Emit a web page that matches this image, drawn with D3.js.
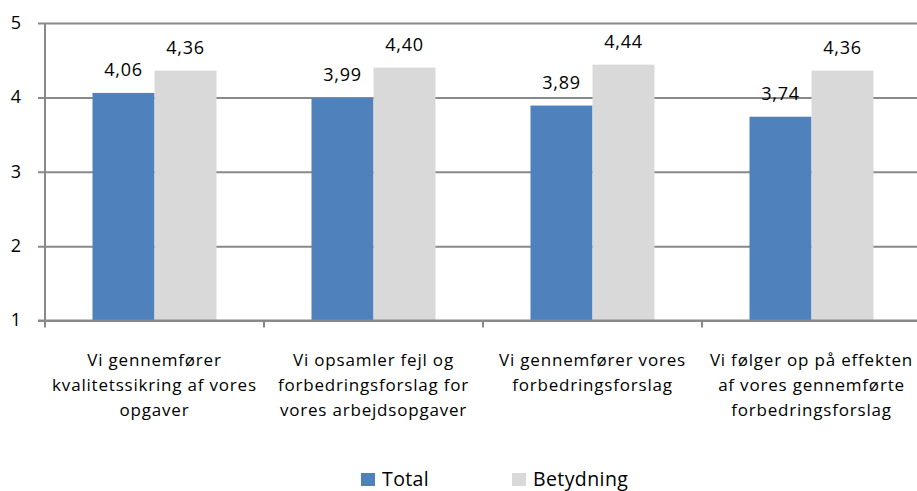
<!DOCTYPE html>
<html>
<head>
<meta charset="utf-8">
<script src="https://cdn.jsdelivr.net/npm/d3@7"></script>
<style>
  html, body { margin: 0; padding: 0; background: #fff; }
  svg { display: block; }
  text { font-family: "Open Sans", Lato, sans-serif; fill: #000; }
  .tick text { font-size: 18px; }
  .value { font-size: 18px; letter-spacing: 0.8px; }
  .category { font-size: 17px; letter-spacing: 0.8px; }
  .legend text { font-size: 19.5px; letter-spacing: 0.4px; }
</style>
</head>
<body>
<svg id="chart" width="917" height="491"></svg>
<script>
// Category labels, one entry per line of the wrapped label
const categories = [
  ["Vi gennemfører", "kvalitetssikring af vores", "opgaver"],
  ["Vi opsamler fejl og", "forbedringsforslag for", "vores arbejdsopgaver"],
  ["Vi gennemfører vores", "forbedringsforslag"],
  ["Vi følger op på effekten", "af vores gennemførte", "forbedringsforslag"]
];
const seriesNames = ["Total", "Betydning"];
const total = [4.06, 3.99, 3.89, 3.74];
const betydning = [4.36, 4.40, 4.44, 4.36];
const yTicks = [1, 2, 3, 4, 5];

const colors = { Total: "#4F81BD", Betydning: "#D9D9D9" };
const gridColor = "#898989";

const svg = d3.select("#chart");
const plotLeft = 45, plotRight = 921, plotTop = 23, plotBottom = 320.5;

const x = d3.scaleBand().domain(d3.range(categories.length)).range([plotLeft, plotRight]).paddingInner(0).paddingOuter(0);
const inner = d3.scaleBand().domain(seriesNames).range([0, x.bandwidth()]).paddingInner(0).paddingOuter(0.766);
const y = d3.scaleLinear().domain([1, 5]).range([plotBottom, plotTop]);

const values = { Total: total, Betydning: betydning };

// horizontal gridlines + left tick marks
const yAxis = d3.axisLeft(y).tickValues(yTicks).tickSize(-(plotRight - plotLeft)).tickSizeOuter(0).tickPadding(24).tickFormat(d3.format("d"));
const gy = svg.append("g").attr("transform", `translate(${plotLeft},0)`).call(yAxis);
gy.select(".domain").remove();
gy.attr("font-family", null).attr("font-size", null);
gy.selectAll(".tick line").attr("stroke", gridColor).attr("stroke-width", 2).attr("x1", -7);
gy.selectAll(".tick text").attr("fill", "#000").attr("dy", "0.3em");

// bars
seriesNames.forEach(s => {
  svg.append("g").selectAll("rect").data(values[s]).join("rect")
    .attr("x", (d, i) => x(i) + inner(s))
    .attr("width", inner.bandwidth())
    .attr("y", d => y(d))
    .attr("height", d => y(1) - y(d))
    .attr("fill", colors[s]);
});

// vertical axis line
svg.append("line").attr("x1", plotLeft).attr("x2", plotLeft).attr("y1", plotTop).attr("y2", plotBottom + 1)
  .attr("stroke", gridColor).attr("stroke-width", 2);

// bottom axis line with category tick marks
svg.append("line").attr("x1", plotLeft - 7).attr("x2", plotRight).attr("y1", plotBottom).attr("y2", plotBottom)
  .attr("stroke", gridColor).attr("stroke-width", 2);
svg.append("g").selectAll("line").data(d3.range(categories.length + 1)).join("line")
  .attr("x1", i => plotLeft + i * x.step()).attr("x2", i => plotLeft + i * x.step())
  .attr("y1", plotBottom).attr("y2", plotBottom + 7)
  .attr("stroke", gridColor).attr("stroke-width", 2);

// value labels
const fmt = v => v.toFixed(2).replace(".", ",");
seriesNames.forEach(s => {
  svg.append("g").selectAll("text").data(values[s]).join("text")
    .attr("class", "value")
    .attr("x", (d, i) => x(i) + inner(s) + inner.bandwidth() / 2)
    .attr("y", d => y(d) - 17)
    .attr("text-anchor", "middle")
    .text(d => fmt(d));
});

// category labels
const cat = svg.append("g").selectAll("text").data(categories).join("text")
  .attr("class", "category")
  .attr("text-anchor", "middle");
cat.each(function (lines, i) {
  d3.select(this).selectAll("tspan").data(lines).join("tspan")
    .attr("x", x(i) + x.bandwidth() / 2)
    .attr("y", (d, j) => 366 + j * 25)
    .text(d => d);
});

// legend
const legend = [
  { name: "Total", x: 361 },
  { name: "Betydning", x: 512 }
];
const lg = svg.append("g").attr("class", "legend").selectAll("g").data(legend).join("g")
  .attr("transform", d => `translate(${d.x},473)`);
lg.append("rect").attr("width", 14).attr("height", 13).attr("fill", d => colors[d.name]);
lg.append("text").attr("x", 21).attr("y", 13).text(d => d.name);
</script>
</body>
</html>
